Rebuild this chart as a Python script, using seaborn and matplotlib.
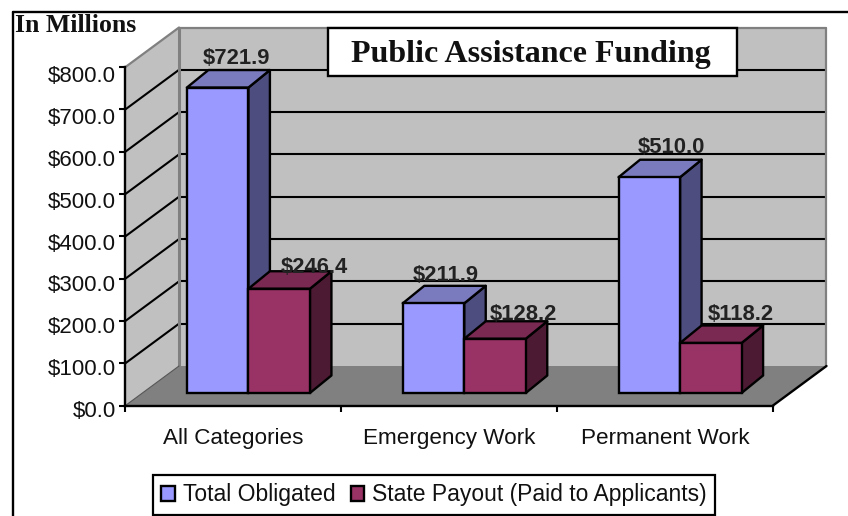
import pandas as pd
import numpy as np
import matplotlib
matplotlib.use('Agg')
import matplotlib.pyplot as plt
import seaborn as sns
from matplotlib.patches import Polygon, Rectangle
from matplotlib.lines import Line2D
from matplotlib.transforms import Affine2D, IdentityTransform

# values
categories = ['All Categories', 'Emergency Work', 'Permanent Work']
total_obligated = [721.9, 211.9, 510.0]
state_payout = [246.4, 128.2, 118.2]
series_names = ['Total Obligated', 'State Payout (Paid to Applicants)']
y_ticks = [0, 100, 200, 300, 400, 500, 600, 700, 800]

df = pd.DataFrame({
    'category': categories * 2,
    'series': [series_names[0]] * 3 + [series_names[1]] * 3,
    'value': total_obligated + state_payout,
})

W, H = 848, 516
BLUE, MAROON = '#9999ff', '#993366'
BLUE_SIDE, BLUE_TOP = '#4d4d80', '#7a7abf'
MAROON_SIDE, MAROON_TOP = '#4d1a33', '#7a2952'
WALL, FLOOR, EDGE = '#c0c0c0', '#808080', '#808080'
INK = '#111111'

# depth of the fake 3d box in pixels
DEPTH = (53.5, 39.5)
BAR_SHIFT = (15, 12.5)
BAR_DEPTH = (21.5, 17.5)

sns.set_style('white')
plt.rcParams['font.family'] = ['Liberation Sans', 'DejaVu Sans']

fig = plt.figure(figsize=(W / 100, H / 100), dpi=100, facecolor='white')
ax = fig.add_axes([125.5 / W, 1 - 405.5 / H, 647.5 / W, 338.5 / H])
ax.patch.set_alpha(0)

sns.barplot(data=df, x='category', y='value', hue='series', order=categories,
            hue_order=series_names, palette=[BLUE, MAROON], saturation=1,
            width=0.57, gap=0, edgecolor='black', linewidth=1.7, ax=ax)
ax.set_xlim(-0.5, 2.5)
ax.set_ylim(0, 800)
ax.set_xlabel('')
ax.set_ylabel('')
ax.set_yticks(y_ticks)
ax.set_yticklabels(['$%.1f' % v for v in y_ticks])
ax.set_xticks([-0.5, 0.5, 1.5, 2.5], minor=True)
ax.tick_params(axis='x', which='major', length=0, labelsize=16.2, pad=16, labelcolor=INK)
ax.tick_params(axis='x', which='minor', bottom=True, length=4, width=1.5, color='black')
ax.tick_params(axis='y', left=True, length=4, width=1.5, labelsize=16, pad=3, color='black', labelcolor=INK)
# the labels in the picture drift a little below their ticks
for i, lab in enumerate(ax.get_yticklabels()):
    lab.set_transform(lab.get_transform() + Affine2D().translate(0, -(3.5 + i * 0.44)))
for s in ['top', 'right']:
    ax.spines[s].set_visible(False)
for s in ['left', 'bottom']:
    ax.spines[s].set_linewidth(1.7)
    ax.spines[s].set_color('black')
    ax.spines[s].set_zorder(2.5)


def px(x, y, shift=(0, 0)):
    p = ax.transData.transform((x, y))
    return (p[0] + shift[0], p[1] + shift[1])


def poly(pts, color, z, edge='none', lw=0):
    ax.add_patch(Polygon(pts, closed=True, facecolor=color, edgecolor=edge, linewidth=lw,
                         transform=IdentityTransform(), clip_on=False, zorder=z, joinstyle='round'))


def seg(a, b, color='black', lw=1.5, z=1.2):
    ax.add_line(Line2D([a[0], b[0]], [a[1], b[1]], color=color, linewidth=lw,
                       transform=IdentityTransform(), clip_on=False, zorder=z))


x0, x1 = -0.5, 2.5
top = y_ticks[-1]

# walls and floor
poly([px(x0, 0, DEPTH), px(x1, 0, DEPTH), px(x1, top, DEPTH), px(x0, top, DEPTH)], WALL, 0.5)
poly([px(x0, 0), px(x0, top), px(x0, top, DEPTH), px(x0, 0, DEPTH)], WALL, 0.5)
poly([px(x0, 0), px(x1, 0), px(x1, 0, DEPTH), px(x0, 0, DEPTH)], FLOOR, 0.6)

# grid on the back wall and the side wall
for v in y_ticks[1:-1]:
    seg(px(x0, v), px(x0, v, DEPTH))
    seg(px(x0, v, DEPTH), px(x1, v, DEPTH))
seg(px(x0, top), px(x0, top, DEPTH), EDGE, 1.6)
seg(px(x0, top, DEPTH), px(x1, top, DEPTH), EDGE, 1.6)
seg(px(x1, 0, DEPTH), px(x1, top, DEPTH), EDGE, 1.6)
seg(px(x0, 0, DEPTH), px(x0, top, DEPTH), EDGE, 2.2)
seg(px(x0, 0), px(x0, 0, DEPTH), '#555555', 0.8)
seg(px(x1, 0), px(x1, 0, DEPTH), 'black', 1.7)

# move bars off the front plane and give them side and top faces
shift_tr = Affine2D().translate(*BAR_SHIFT)
faces = [(BLUE_SIDE, BLUE_TOP, 3), (MAROON_SIDE, MAROON_TOP, 4)]
for cont, (side_c, top_c, z) in zip(ax.containers, faces):
    for bar in cont:
        l, r = bar.get_x(), bar.get_x() + bar.get_width()
        h = bar.get_height()
        front = (BAR_SHIFT[0], BAR_SHIFT[1])
        back = (BAR_SHIFT[0] + BAR_DEPTH[0], BAR_SHIFT[1] + BAR_DEPTH[1])
        poly([px(r, 0, front), px(r, h, front), px(r, h, back), px(r, 0, back)], side_c, z, 'black', 1.7)
        poly([px(l, h, front), px(r, h, front), px(r, h, back), px(l, h, back)], top_c, z, 'black', 1.7)
        bar.set_transform(ax.transData + shift_tr)
        bar.set_clip_on(False)
        bar.set_zorder(5)

# value labels, nudged in pixels from bar top
nudges = [[(19, 29), (12, 28), (22, 30)], [(35, 21), (28, 24), (30, 28)]]
for cont, nudge in zip(ax.containers, nudges):
    for bar, (dx, dy) in zip(cont, nudge):
        xc = bar.get_x() + bar.get_width() / 2
        ax.annotate('$%.1f' % bar.get_height(), (xc, bar.get_height()),
                    xytext=(BAR_SHIFT[0] + dx, BAR_SHIFT[1] + dy), textcoords='offset pixels',
                    ha='center', va='center', fontsize=15.8, fontweight='bold', color='#222222',
                    annotation_clip=False, zorder=7)

# legend
handles, labels = ax.get_legend_handles_labels()
leg = ax.legend(handles, labels, ncol=2, loc='center', frameon=True, fancybox=False,
                bbox_to_anchor=((154 + 714.5) / 2 / W, 1 - 495 / H), bbox_transform=fig.transFigure,
                fontsize=16.5, edgecolor='black', labelcolor=INK, framealpha=1,
                handlelength=0.6, handleheight=0.6, handletextpad=0.35, columnspacing=0.65,
                borderpad=0.35, borderaxespad=0)
leg.get_frame().set_linewidth(1.6)
leg.set_zorder(8)

# outer frame, only top and left are inside the picture
fig.add_artist(Line2D([12.5 / W, 12.5 / W], [0, 1 - 11.5 / H], color='black', linewidth=1.7))
fig.add_artist(Line2D([12.5 / W, 1], [1 - 11.5 / H, 1 - 11.5 / H], color='black', linewidth=1.7))

fig.text(15 / W, 1 - 26 / H, 'In Millions', family='Liberation Serif', fontweight='bold',
         fontsize=18.5, va='center', ha='left', color=INK)

# title box
fig.add_artist(Rectangle((327.5 / W, 1 - 75.5 / H), 409.5 / W, 47.5 / H, facecolor='white',
                         edgecolor='black', linewidth=1.7, transform=fig.transFigure, zorder=6))
fig.text(531 / W, 1 - 54.5 / H, 'Public Assistance Funding', family='Liberation Serif',
         fontweight='bold', fontsize=23, va='center', ha='center', color=INK, zorder=7)

fig.savefig('out.png', dpi=100, facecolor='white')
